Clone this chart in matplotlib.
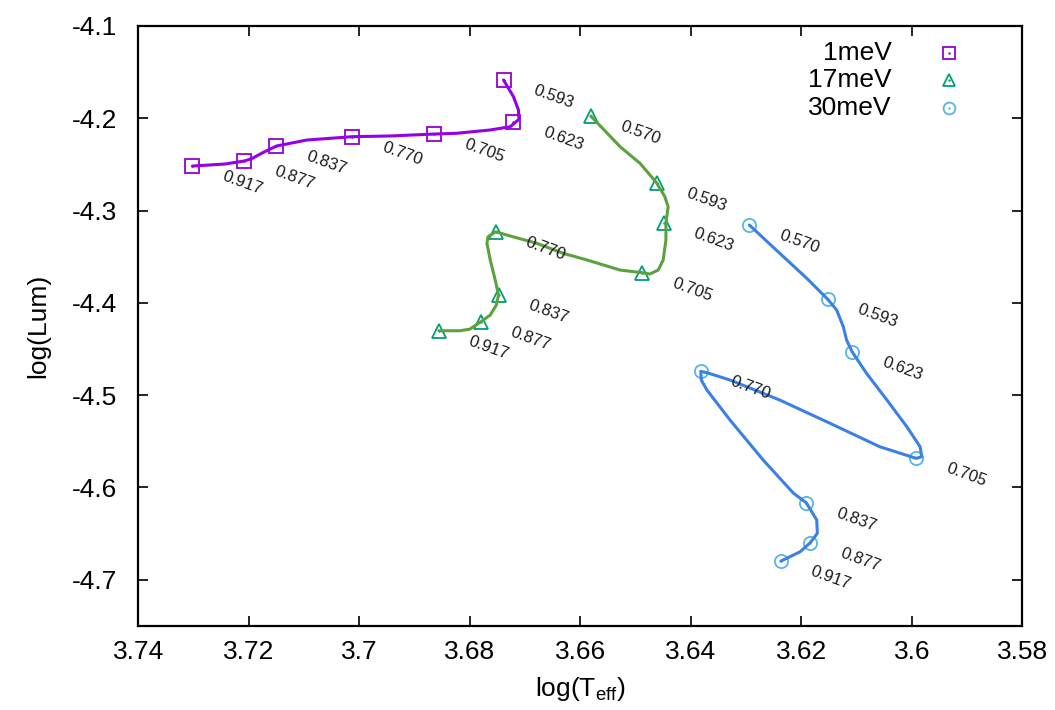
import numpy as np
import matplotlib
matplotlib.use('Agg')
import matplotlib.pyplot as plt
from matplotlib.ticker import FuncFormatter

plt.rcParams['font.family'] = ['Liberation Sans', 'DejaVu Sans']
plt.rcParams['mathtext.default'] = 'regular'

# -- marker points (log Teff, log L) and their labels
lab_1 = ['0.593', '0.623', '0.705', '0.770', '0.837', '0.877', '0.917']
x_1 = [3.6739, 3.6721, 3.6864, 3.7013, 3.7150, 3.7208, 3.7302]
y_1 = [-4.1585, -4.2041, -4.2171, -4.2200, -4.2301, -4.2463, -4.2518]

lab_17 = ['0.570', '0.593', '0.623', '0.705', '0.770', '0.837', '0.877', '0.917']
x_17 = [3.6581, 3.6462, 3.6449, 3.6488, 3.6753, 3.6748, 3.6780, 3.6856]
y_17 = [-4.1976, -4.2699, -4.3132, -4.3674, -4.3230, -4.3916, -4.4205, -4.4303]

lab_30 = ['0.570', '0.593', '0.623', '0.705', '0.770', '0.837', '0.877', '0.917']
x_30 = [3.6294, 3.6152, 3.6108, 3.5992, 3.6382, 3.6191, 3.6184, 3.6237]
y_30 = [-4.3157, -4.3963, -4.4531, -4.5686, -4.4743, -4.6167, -4.6601, -4.6800]

# -- full tracks
trk_x_1 = [3.6739, 3.6721, 3.6712, 3.6711, 3.6727, 3.6763, 3.6824, 3.6864, 3.6944,
           3.7013, 3.7095, 3.7150, 3.7176, 3.7194, 3.7208, 3.7243, 3.7302]
trk_y_1 = [-4.1585, -4.1766, -4.1910, -4.2011, -4.2092, -4.2127, -4.2163, -4.2171, -4.2192,
           -4.2200, -4.2236, -4.2301, -4.2377, -4.2436, -4.2463, -4.2496, -4.2518]

trk_x_17 = [3.6581, 3.6528, 3.6492, 3.6462, 3.6447, 3.6441, 3.6445, 3.6445, 3.6450,
            3.6459, 3.6474, 3.6488, 3.6528, 3.6588, 3.6631, 3.6679, 3.6727, 3.6753,
            3.6767, 3.6769, 3.6763, 3.6754, 3.6748, 3.6752, 3.6763, 3.6780, 3.6800,
            3.6818, 3.6856]
trk_y_17 = [-4.1976, -4.2308, -4.2488, -4.2699, -4.2850, -4.2959, -4.3132, -4.3320, -4.3536,
            -4.3645, -4.3688, -4.3674, -4.3645, -4.3536, -4.3464, -4.3355, -4.3276, -4.3230,
            -4.3284, -4.3355, -4.3536, -4.3753, -4.3916, -4.4024, -4.4133, -4.4205, -4.4286,
            -4.4303, -4.4303]

trk_x_30 = [3.6294, 3.6239, 3.6190, 3.6152, 3.6136, 3.6124, 3.6118, 3.6108, 3.6082,
            3.6045, 3.6009, 3.5985, 3.5982, 3.5992, 3.6058, 3.6148, 3.6239, 3.6329,
            3.6369, 3.6382, 3.6381, 3.6371, 3.6329, 3.6269, 3.6214, 3.6191, 3.6172,
            3.6171, 3.6184, 3.6202, 3.6237]
trk_y_30 = [-4.3157, -4.3464, -4.3735, -4.3963, -4.4078, -4.4259, -4.4404, -4.4531, -4.4764,
            -4.5054, -4.5343, -4.5560, -4.5668, -4.5686, -4.5560, -4.5306, -4.5054, -4.4837,
            -4.4761, -4.4743, -4.4837, -4.4944, -4.5271, -4.5704, -4.6065, -4.6167, -4.6355,
            -4.6499, -4.6601, -4.6698, -4.6800]

names = ['1meV', '17meV', '30meV']
mk_col = ['#9400d3', '#009e73', '#56b4e9']
ln_col = ['#9400e8', '#5da13e', '#3d80e3']
mks = ['s', '^', 'o']

fig = plt.figure(figsize=(10.55, 7.10), dpi=100)
ax = fig.add_axes([0.1311, 0.1187, 0.8379, 0.8447])

series = [(x_1, y_1, lab_1, trk_x_1, trk_y_1),
          (x_17, y_17, lab_17, trk_x_17, trk_y_17),
          (x_30, y_30, lab_30, trk_x_30, trk_y_30)]

for i, (xs, ys, labs, tx, ty) in enumerate(series):
    ax.plot(xs, ys, ls='none', marker=mks[i], ms=9.5, mfc='none', mec=mk_col[i], mew=1.3)
    ax.plot(xs, ys, ls='none', marker='.', ms=1.5, color=mk_col[i])
    ax.plot(tx, ty, color=ln_col[i], lw=2.2, solid_capstyle='round', solid_joinstyle='round')
    for xv, yv, s in zip(xs, ys, labs):
        ax.annotate(s, (xv, yv), xytext=(50, -17), textcoords='offset pixels',
                    ha='center', va='center', rotation=-20, rotation_mode='anchor',
                    fontsize=12, color='#1a1a1a')

# -- legend, gnuplot style: right-aligned text, marker on the right
leg_y = [0.9545, 0.910, 0.8628]
for i in range(3):
    ax.text(0.852, leg_y[i], names[i], transform=ax.transAxes, ha='right', va='center',
            fontsize=19)
    ax.plot([0.917], [leg_y[i]], transform=ax.transAxes, marker=mks[i], ms=8.5,
            mfc='none', mec=mk_col[i], mew=1.3, clip_on=False)
    ax.plot([0.917], [leg_y[i]], transform=ax.transAxes, marker='.', ms=1.5,
            color=mk_col[i], clip_on=False)

ax.set_xlim(3.74, 3.58)
ax.set_ylim(-4.75, -4.1)
ax.set_xticks(np.arange(3.74, 3.5799, -0.02))
ax.set_yticks(np.arange(-4.7, -4.0999, 0.1))
fmt = FuncFormatter(lambda v, p: '%g' % round(v, 3))
ax.xaxis.set_major_formatter(fmt)
ax.yaxis.set_major_formatter(fmt)
ax.tick_params(direction='in', length=7, width=1.2, labelsize=19, top=True, right=True)
ax.tick_params(axis='x', pad=10)
ax.tick_params(axis='y', pad=15)
for sp in ax.spines.values():
    sp.set_linewidth(1.6)

ax.set_xlabel('log(T$_{eff}$)', fontsize=19, labelpad=8)
ax.set_ylabel('log(Lum)', fontsize=19, labelpad=16)

plt.savefig('out.png', dpi=100)
